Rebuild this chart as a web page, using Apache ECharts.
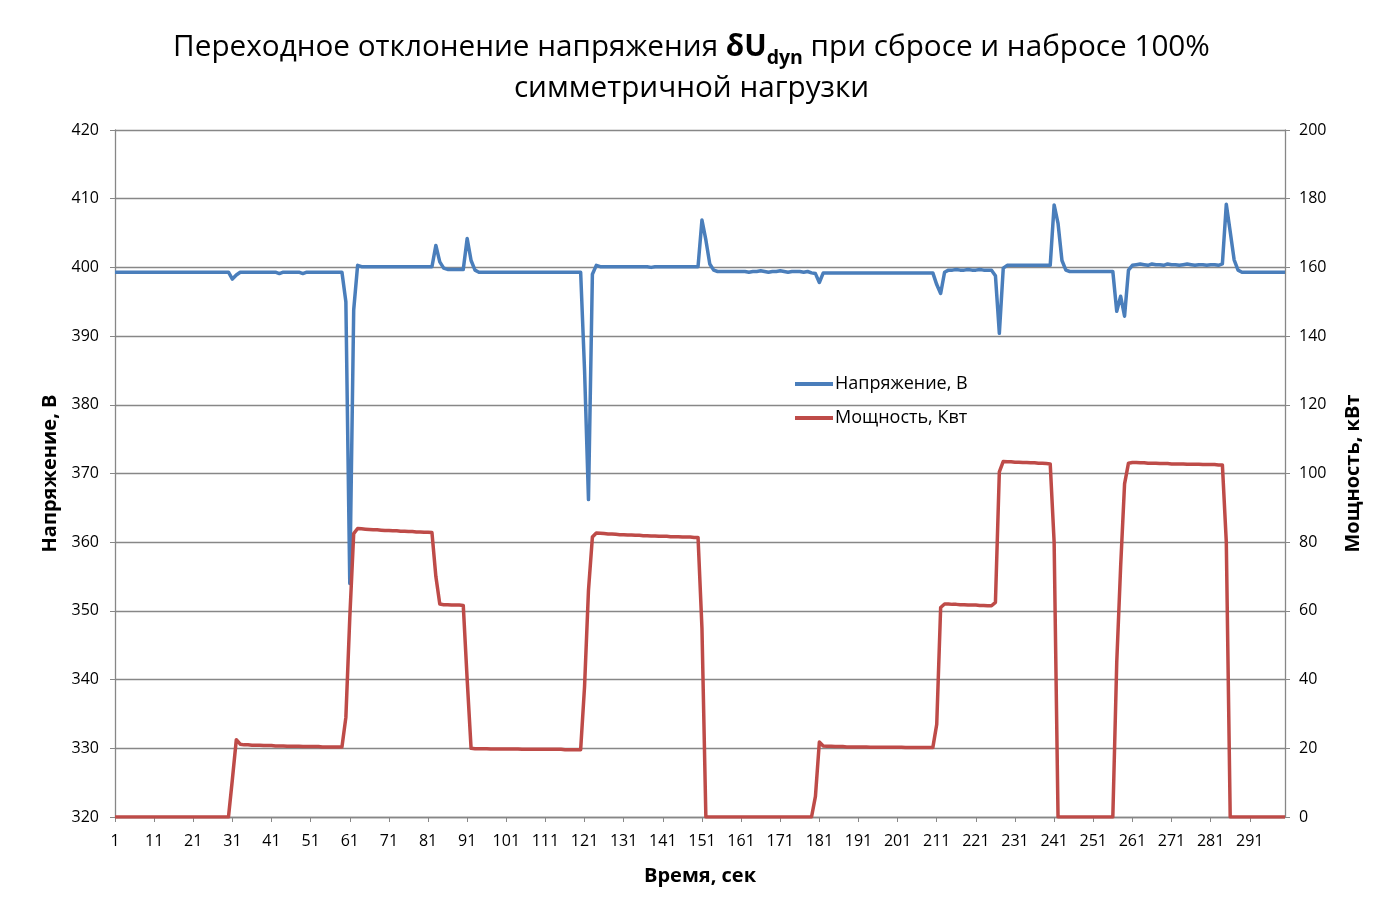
<!DOCTYPE html>
<html>
<head>
<meta charset="utf-8">
<script src="https://cdn.jsdelivr.net/npm/echarts@6/dist/echarts.min.js"></script>
<style>
html,body{margin:0;padding:0;background:#fff;}
#chart{width:1383px;height:908px;}
</style>
</head>
<body>
<div id="chart"></div>
<script>
// Time, s (categories 1..300)
const timeSec = Array.from({length: 300}, (_, k) => String(k + 1));

// Voltage, V
const voltage = [
  399.3,399.3,399.3,399.3,399.3,399.3,399.3,399.3,399.3,399.3,
  399.3,399.3,399.3,399.3,399.3,399.3,399.3,399.3,399.3,399.3,
  399.3,399.3,399.3,399.3,399.3,399.3,399.3,399.3,399.3,399.3,
  398.3,398.9,399.3,399.3,399.3,399.3,399.3,399.3,399.3,399.3,
  399.3,399.3,399.1,399.3,399.3,399.3,399.3,399.3,399.1,399.3,
  399.3,399.3,399.3,399.3,399.3,399.3,399.3,399.3,399.3,395.0,
  354.0,393.8,400.3,400.1,400.1,400.1,400.1,400.1,400.1,400.1,
  400.1,400.1,400.1,400.1,400.1,400.1,400.1,400.1,400.1,400.1,
  400.1,400.1,403.2,400.8,399.9,399.7,399.7,399.7,399.7,399.7,
  404.2,401.0,399.6,399.3,399.3,399.3,399.3,399.3,399.3,399.3,
  399.3,399.3,399.3,399.3,399.3,399.3,399.3,399.3,399.3,399.3,
  399.3,399.3,399.3,399.3,399.3,399.3,399.3,399.3,399.3,399.3,
  385.0,366.2,399.0,400.3,400.1,400.1,400.1,400.1,400.1,400.1,
  400.1,400.1,400.1,400.1,400.1,400.1,400.1,400.0,400.1,400.1,
  400.1,400.1,400.1,400.1,400.1,400.1,400.1,400.1,400.1,400.1,
  406.9,404.0,400.5,399.6,399.4,399.4,399.4,399.4,399.4,399.4,
  399.4,399.4,399.3,399.4,399.4,399.5,399.4,399.3,399.4,399.4,
  399.5,399.4,399.3,399.4,399.4,399.4,399.3,399.4,399.2,399.1,
  397.8,399.2,399.2,399.2,399.2,399.2,399.2,399.2,399.2,399.2,
  399.2,399.2,399.2,399.2,399.2,399.2,399.2,399.2,399.2,399.2,
  399.2,399.2,399.2,399.2,399.2,399.2,399.2,399.2,399.2,399.2,
  397.5,396.2,399.3,399.6,399.6,399.7,399.6,399.6,399.7,399.6,
  399.6,399.7,399.6,399.6,399.6,398.8,390.4,399.9,400.3,400.3,
  400.3,400.3,400.3,400.3,400.3,400.3,400.3,400.3,400.3,400.3,
  409.1,406.4,401.0,399.6,399.4,399.4,399.4,399.4,399.4,399.4,
  399.4,399.4,399.4,399.4,399.4,399.4,393.6,395.8,392.9,399.6,
  400.3,400.4,400.5,400.4,400.3,400.5,400.4,400.4,400.3,400.5,
  400.4,400.4,400.3,400.4,400.5,400.4,400.3,400.4,400.4,400.3,
  400.4,400.4,400.3,400.5,409.2,405.2,401.1,399.6,399.3,399.3,
  399.3,399.3,399.3,399.3,399.3,399.3,399.3,399.3,399.3,399.3
];

// Power, kW
const power = [
  0,0,0,0,0,0,0,0,0,0,
  0,0,0,0,0,0,0,0,0,0,
  0,0,0,0,0,0,0,0,0,0,
  11,22.5,21.2,21.0,21.0,20.9,20.9,20.9,20.8,20.8,
  20.8,20.7,20.7,20.7,20.6,20.6,20.6,20.6,20.5,20.5,
  20.5,20.5,20.5,20.4,20.4,20.4,20.4,20.4,20.4,29.0,
  58,82.5,84.0,83.9,83.8,83.7,83.6,83.6,83.5,83.4,
  83.4,83.3,83.3,83.2,83.2,83.1,83.1,83.0,83.0,82.9,
  82.9,82.8,70,62,61.8,61.8,61.7,61.7,61.7,61.6,
  40,20.0,19.9,19.9,19.9,19.9,19.8,19.8,19.8,19.8,
  19.8,19.8,19.8,19.8,19.7,19.7,19.7,19.7,19.7,19.7,
  19.7,19.7,19.7,19.7,19.7,19.6,19.6,19.6,19.6,19.6,
  38,66,81.5,82.7,82.6,82.5,82.4,82.4,82.3,82.2,
  82.2,82.1,82.1,82.0,82.0,81.9,81.9,81.8,81.8,81.7,
  81.7,81.7,81.6,81.6,81.6,81.5,81.5,81.5,81.4,81.4,
  55,0,0,0,0,0,0,0,0,0,
  0,0,0,0,0,0,0,0,0,0,
  0,0,0,0,0,0,0,0,0,6,
  21.8,20.7,20.6,20.6,20.5,20.5,20.5,20.4,20.4,20.4,
  20.4,20.4,20.4,20.3,20.3,20.3,20.3,20.3,20.3,20.3,
  20.3,20.3,20.2,20.2,20.2,20.2,20.2,20.2,20.2,20.2,
  27,61,62.0,62.0,61.9,61.9,61.8,61.8,61.7,61.7,
  61.7,61.6,61.6,61.5,61.5,62.5,100.5,103.5,103.4,103.4,
  103.3,103.3,103.2,103.2,103.1,103.1,103.0,103.0,102.9,102.8,
  80,0,0,0,0,0,0,0,0,0,
  0,0,0,0,0,0,45,73,97,103.0,
  103.2,103.2,103.1,103.1,103.0,103.0,103.0,102.9,102.9,102.9,
  102.8,102.8,102.8,102.8,102.7,102.7,102.7,102.7,102.6,102.6,
  102.6,102.6,102.5,102.5,80,0,0,0,0,0,
  0,0,0,0,0,0,0,0,0,0
];

const seriesNames = ['Напряжение, В', 'Мощность, Квт'];
const axisNames = {x: 'Время, сек', yLeft: 'Напряжение, В', yRight: 'Мощность, кВт'};

const FONT = '"Open Sans", "Noto Sans", sans-serif';
const GRID_COLOR = '#878787';

const chart = echarts.init(document.getElementById('chart'), null, {renderer: 'canvas'});
chart.setOption({
  backgroundColor: '#ffffff',
  animation: false,
  title: {
    text: '{a|Переходное отклонение напряжения }{b|δU}{c|dyn}{a| при сбросе и набросе 100%}\n{a|симметричной нагрузки}',
    left: 'center',
    top: 22,
    textStyle: {
      fontWeight: 'normal',
      rich: {
        a: {fontFamily: FONT, fontSize: 29.7, fontWeight: 'normal', color: '#000', lineHeight: 41},
        b: {fontFamily: FONT, fontSize: 29.7, fontWeight: 'bold', color: '#000', lineHeight: 41},
        c: {fontFamily: FONT, fontSize: 19.5, fontWeight: 'bold', color: '#000', lineHeight: 41, verticalAlign: 'bottom', padding: [14, 0, 0, 0]}
      }
    }
  },
  legend: {
    orient: 'vertical',
    left: 790,
    top: 368,
    icon: 'rect',
    itemWidth: 38,
    itemHeight: 4,
    itemGap: 12,
    data: seriesNames,
    textStyle: {fontFamily: FONT, fontSize: 18, color: '#000', lineHeight: 22, padding: [0, 0, 0, -3]}
  },
  grid: {left: 115, right: 98, top: 130, bottom: 91, containLabel: false},
  xAxis: {
    type: 'category',
    data: timeSec,
    boundaryGap: false,
    name: axisNames.x,
    nameLocation: 'middle',
    nameGap: 49,
    nameTextStyle: {fontFamily: FONT, fontSize: 20, fontWeight: 'bold', color: '#000'},
    axisLine: {lineStyle: {color: GRID_COLOR, width: 1.3}},
    axisTick: {show: true, interval: 9, length: 5, lineStyle: {color: GRID_COLOR}},
    axisLabel: {interval: 9, fontFamily: FONT, fontSize: 16, color: '#000', margin: 16},
    splitLine: {show: false}
  },
  yAxis: [
    {
      type: 'value',
      min: 320, max: 420, interval: 10,
      position: 'left',
      name: axisNames.yLeft,
      nameLocation: 'middle',
      nameRotate: 90,
      nameGap: 55,
      nameTextStyle: {fontFamily: FONT, fontSize: 20, fontWeight: 'bold', color: '#000'},
      axisLine: {show: true, lineStyle: {color: GRID_COLOR, width: 1.3}},
      axisTick: {show: true, length: 5, lineStyle: {color: GRID_COLOR}},
      axisLabel: {fontFamily: FONT, fontSize: 16, color: '#000', margin: 16},
      splitLine: {show: true, lineStyle: {color: GRID_COLOR, width: 1.3}}
    },
    {
      type: 'value',
      min: 0, max: 200, interval: 20,
      position: 'right',
      name: axisNames.yRight,
      nameLocation: 'middle',
      nameRotate: 90,
      nameGap: 58,
      nameTextStyle: {fontFamily: FONT, fontSize: 20, fontWeight: 'bold', color: '#000'},
      axisLine: {show: true, lineStyle: {color: GRID_COLOR, width: 1.3}},
      axisTick: {show: true, length: 5, lineStyle: {color: GRID_COLOR}},
      axisLabel: {fontFamily: FONT, fontSize: 16, color: '#000', margin: 14},
      splitLine: {show: false}
    }
  ],
  series: [
    {
      name: seriesNames[0],
      type: 'line',
      yAxisIndex: 0,
      data: voltage,
      symbol: 'none',
      color: '#4a7ebb',
      lineStyle: {color: '#4a7ebb', width: 3.5, join: 'round'}
    },
    {
      name: seriesNames[1],
      type: 'line',
      yAxisIndex: 1,
      data: power,
      symbol: 'none',
      color: '#be4b48',
      lineStyle: {color: '#be4b48', width: 3.5, join: 'round'}
    }
  ]
});
</script>
</body>
</html>
